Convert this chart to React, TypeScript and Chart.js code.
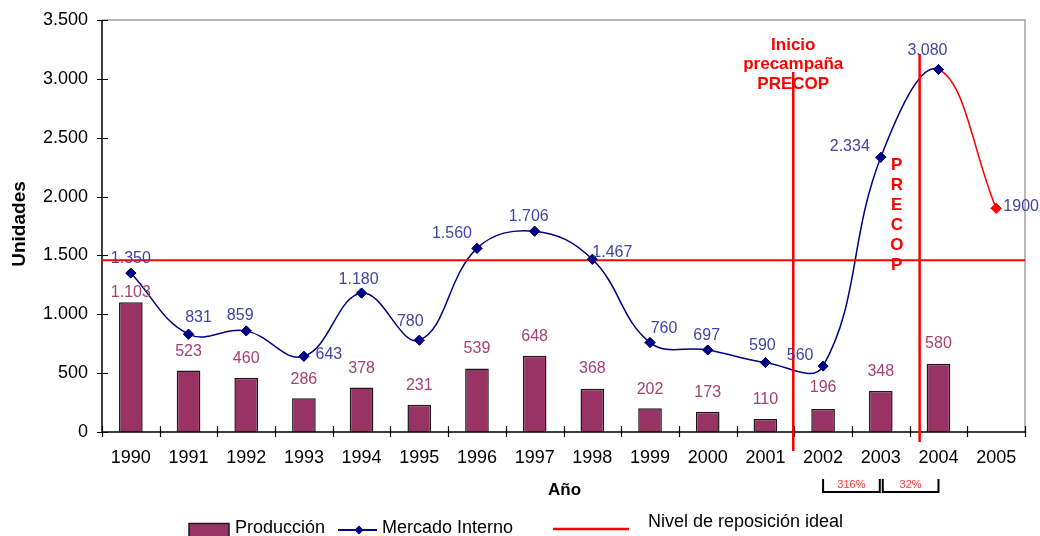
import React, { useEffect, useRef } from 'react';
import { Chart, registerables } from 'chart.js';

Chart.register(...registerables);

// ---- Data ----
const years = ['1990', '1991', '1992', '1993', '1994', '1995', '1996', '1997', '1998', '1999', '2000', '2001', '2002', '2003', '2004', '2005'];
const produccion = [1103, 523, 460, 286, 378, 231, 539, 648, 368, 202, 173, 110, 196, 348, 580, null];
const mercadoInterno = [1350, 831, 859, 643, 1180, 780, 1560, 1706, 1467, 760, 697, 590, 560, 2334, 3080, 1900];
const nivelReposicionIdeal = 1460;
const yTickValues = [0, 500, 1000, 1500, 2000, 2500, 3000, 3500];
const anioEstimado = '2005';
const crecimientos = [
  { desde: '2002', hasta: '2003', texto: '316%' },
  { desde: '2003', hasta: '2004', texto: '32%' },
];
const tituloPrecampania = ['Inicio', 'precampaña', 'PRECOP'];
const textoPrecop = 'PRECOP';

// ---- Label placement (pixel offsets from each mark) ----
const lineLabelOffsets: [number, number][] = [
  [0, -14], [10, -17], [-6, -15], [25, -2], [-3, -14], [-9, -19], [-25, -15], [-6, -15],
  [20, -7], [14, -14], [-1, -14], [-3, -17], [-23, -10], [-31, -11], [-11, -19], [25, -2],
];
const barLabelOffsets: number[] = [-10, -19, -19, -19, -19, -19, -20, -19, -20, -19, -19, -19, -21, -19, -20, 0];

// ---- Styles ----
const FONT = "'Liberation Sans', Arial, Helvetica, sans-serif";
const NAVY = '#000080';
const RED = '#ff0000';
const BAR_FILL = '#993366';
const BAR_EDGE = '#1a1a1a';
const LINE_LABEL = '#4343a3';
const BAR_LABEL = '#a3426f';

const fmtMiles = (v: number) => {
  const s = Math.round(v).toString();
  return s.replace(/\B(?=(\d{3})+(?!\d))/g, '.');
};

const decorPlugin = {
  id: 'decor',
  afterDatasetsDraw(chart: any) {
    const { ctx, chartArea } = chart;
    const xs = chart.scales.x;
    const ys = chart.scales.y;
    const { left, right, top, bottom } = chartArea;
    const catW = (right - left) / years.length;
    const cx = (i: number) => xs.getPixelForValue(i);

    ctx.save();
    // plot frame (top + right)
    ctx.strokeStyle = '#a0a0a0';
    ctx.lineWidth = 1.5;
    ctx.beginPath();
    ctx.moveTo(left, top);
    ctx.lineTo(right, top);
    ctx.lineTo(right, bottom);
    ctx.stroke();

    // axes
    ctx.strokeStyle = '#000';
    ctx.lineWidth = 1.5;
    ctx.beginPath();
    ctx.moveTo(left, top);
    ctx.lineTo(left, bottom);
    ctx.lineTo(right, bottom);
    ctx.stroke();

    // cross tick marks
    ctx.lineWidth = 1.2;
    ctx.beginPath();
    yTickValues.forEach((v) => {
      const y = Math.round(ys.getPixelForValue(v)) + 0.5;
      ctx.moveTo(left - 5, y);
      ctx.lineTo(left + 6, y);
    });
    for (let i = 0; i <= years.length; i++) {
      const x = Math.round(left + i * catW) + 0.5;
      ctx.moveTo(x, bottom - 6);
      ctx.lineTo(x, bottom + 5);
    }
    ctx.stroke();

    // ideal replacement level
    const yIdeal = ys.getPixelForValue(nivelReposicionIdeal);
    ctx.strokeStyle = RED;
    ctx.lineWidth = 2;
    ctx.beginPath();
    ctx.moveTo(left, yIdeal);
    ctx.lineTo(right, yIdeal);
    ctx.stroke();

    // campaign markers
    const i2002 = years.indexOf('2002');
    const i2004 = years.indexOf('2004');
    const xInicio = (cx(i2002 - 1) + cx(i2002)) / 2 - 1;
    const xPrecop = (cx(i2004 - 1) + cx(i2004)) / 2 + 10;
    ctx.lineWidth = 2.5;
    ctx.beginPath();
    ctx.moveTo(xInicio, 72);
    ctx.lineTo(xInicio, bottom + 19);
    ctx.moveTo(xPrecop, 54);
    ctx.lineTo(xPrecop, bottom + 10);
    ctx.stroke();
    ctx.restore();

    // keep the line markers above the reference lines
    const lineMeta = chart.getDatasetMeta(0);
    lineMeta.data.forEach((pt: any) => pt.draw(ctx, chartArea));

    ctx.save();
    // data labels
    ctx.textAlign = 'center';
    ctx.textBaseline = 'middle';
    ctx.font = `16px ${FONT}`;
    const barMeta = chart.getDatasetMeta(1);
    ctx.fillStyle = BAR_LABEL;
    produccion.forEach((v, i) => {
      if (v == null) return;
      const el = barMeta.data[i];
      ctx.fillText(fmtMiles(v), el.x, el.y + barLabelOffsets[i]);
    });
    ctx.fillStyle = LINE_LABEL;
    mercadoInterno.forEach((v, i) => {
      const el = lineMeta.data[i];
      const [dx, dy] = lineLabelOffsets[i];
      const txt = years[i] === anioEstimado ? String(v) : fmtMiles(v);
      ctx.fillText(txt, el.x + dx, el.y + dy);
    });

    // annotation texts
    ctx.fillStyle = RED;
    ctx.font = `bold 17px ${FONT}`;
    tituloPrecampania.forEach((t, k) => ctx.fillText(t, xInicio, 45 + k * 19.5));
    const xLetters = cx(years.indexOf('2003')) + 16;
    textoPrecop.split('').forEach((ch, k) => ctx.fillText(ch, xLetters, 165 + k * 20));
    ctx.restore();
  },
  afterDraw(chart: any) {
    const { ctx, chartArea } = chart;
    const xs = chart.scales.x;
    const { left, right } = chartArea;
    ctx.save();

    // axis titles
    ctx.fillStyle = '#000';
    ctx.textAlign = 'center';
    ctx.textBaseline = 'middle';
    ctx.font = `bold 17px ${FONT}`;
    ctx.fillText('Año', (left + right) / 2 + 1, 490);
    ctx.save();
    ctx.translate(20, 224);
    ctx.rotate(-Math.PI / 2);
    ctx.font = `bold 19px ${FONT}`;
    ctx.fillText('Unidades', 0, 0);
    ctx.restore();

    // growth brackets
    crecimientos.forEach((c, k) => {
      const x0 = xs.getPixelForValue(years.indexOf(c.desde)) + (k > 0 ? 2 : 0);
      const x1 = xs.getPixelForValue(years.indexOf(c.hasta)) + (k === 0 ? -1 : 0);
      ctx.strokeStyle = '#000';
      ctx.lineWidth = 2;
      ctx.beginPath();
      ctx.moveTo(x0, 479);
      ctx.lineTo(x0, 492);
      ctx.lineTo(x1, 492);
      ctx.lineTo(x1, 479);
      ctx.stroke();
      ctx.fillStyle = '#ff3333';
      ctx.font = `11px ${FONT}`;
      ctx.fillText(c.texto, (x0 + x1) / 2, 485);
    });

    // legend
    ctx.textAlign = 'left';
    ctx.font = `18px ${FONT}`;
    ctx.fillStyle = BAR_FILL;
    ctx.strokeStyle = BAR_EDGE;
    ctx.lineWidth = 1.5;
    ctx.fillRect(189, 523.5, 40, 14);
    ctx.strokeRect(189, 523.5, 40, 14);
    ctx.fillStyle = '#000';
    ctx.fillText('Producción', 235, 528);

    ctx.strokeStyle = NAVY;
    ctx.lineWidth = 2;
    ctx.beginPath();
    ctx.moveTo(338, 530);
    ctx.lineTo(377, 530);
    ctx.stroke();
    ctx.fillStyle = NAVY;
    ctx.beginPath();
    ctx.moveTo(359, 525.5);
    ctx.lineTo(363.5, 530);
    ctx.lineTo(359, 534.5);
    ctx.lineTo(354.5, 530);
    ctx.closePath();
    ctx.fill();
    ctx.fillStyle = '#000';
    ctx.fillText('Mercado Interno', 382, 528);

    ctx.strokeStyle = RED;
    ctx.lineWidth = 2.5;
    ctx.beginPath();
    ctx.moveTo(553, 529);
    ctx.lineTo(629, 529);
    ctx.stroke();
    ctx.fillStyle = '#000';
    ctx.fillText('Nivel de reposición ideal', 648, 522);
    ctx.restore();
  },
};

export default function App() {
  const canvasRef = useRef<HTMLCanvasElement | null>(null);

  useEffect(() => {
    if (!canvasRef.current) return;
    const lastIdx = years.indexOf(anioEstimado);
    const pointColors = mercadoInterno.map((_, i) => (i === lastIdx ? RED : NAVY));
    const chart = new Chart(canvasRef.current, {
      type: 'bar',
      data: {
        labels: years,
        datasets: [
          {
            type: 'line',
            label: 'Mercado Interno',
            data: mercadoInterno,
            borderColor: NAVY,
            borderWidth: 1.5,
            tension: 0.4,
            pointStyle: 'rectRot',
            pointRadius: 5,
            pointBorderWidth: 1,
            pointBackgroundColor: pointColors,
            pointBorderColor: pointColors,
            segment: {
              borderColor: (ctx: any) => (ctx.p1DataIndex === lastIdx ? RED : NAVY),
            },
            order: 0,
          } as any,
          {
            type: 'bar',
            label: 'Producción',
            data: produccion,
            backgroundColor: BAR_FILL,
            borderColor: BAR_EDGE,
            borderWidth: 1.5,
            barPercentage: 0.41,
            categoryPercentage: 1,
            order: 1,
          } as any,
        ],
      },
      options: {
        responsive: false,
        animation: false,
        devicePixelRatio: 1,
        layout: { padding: { left: 0, top: 20, right: 15, bottom: 0 } },
        plugins: { legend: { display: false }, tooltip: { enabled: false } },
        scales: {
          x: {
            offset: true,
            grid: { display: false },
            border: { display: false },
            ticks: {
              color: '#000',
              font: { family: FONT, size: 18 },
              padding: 7,
              maxRotation: 0,
              autoSkip: false,
            },
            afterFit: (s: any) => {
              s.height = 104;
            },
          },
          y: {
            min: 0,
            max: 3500,
            grid: { display: false },
            border: { display: false },
            ticks: {
              stepSize: 500,
              color: '#000',
              font: { family: FONT, size: 18 },
              padding: 6,
              callback: (v: any) => fmtMiles(Number(v)),
            },
            afterFit: (s: any) => {
              s.width = 102;
            },
          },
        },
      } as any,
      plugins: [decorPlugin],
    });
    return () => chart.destroy();
  }, []);

  return (
    <div style={{ position: 'fixed', left: 0, top: 0, width: 1040, height: 536, background: '#fff' }}>
      <canvas ref={canvasRef} width={1040} height={536} style={{ display: 'block' }} />
    </div>
  );
}
